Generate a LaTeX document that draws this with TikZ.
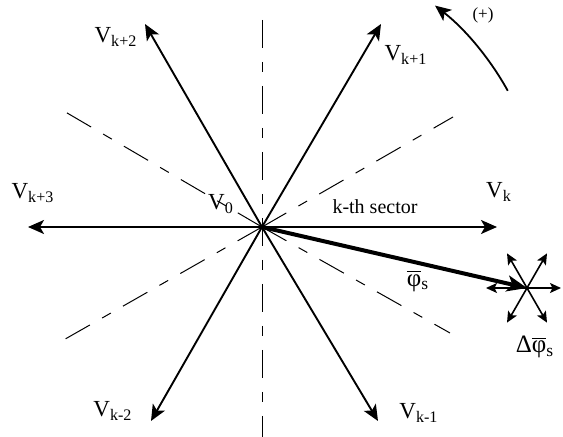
\documentclass[tikz,border=0pt]{standalone}
\usepackage{fontspec}
\setmainfont{Liberation Serif}
\usetikzlibrary{arrows.meta,calc}
\begin{document}
\begin{tikzpicture}[x=0.5pt,y=-0.5pt,
  vec/.style={line width=0.95pt,-{Stealth[length=8pt,width=7pt,inset=2pt]}},
  flux/.style={line width=2pt,-{Stealth[length=10pt,width=8pt,inset=2.5pt]}},
  small/.style={line width=0.8pt,-{Stealth[length=5.5pt,width=5pt,inset=1.2pt]}},
  sector/.style={line width=0.5pt,dash pattern=on 14pt off 7pt on 5pt off 7pt},
  lab/.style={inner sep=0pt,font=\fontsize{11.5}{13}\selectfont},
  txt/.style={inner sep=0pt,font=\fontsize{10}{12}\selectfont},
  greek/.style={inner sep=0pt,font=\fontsize{12.5}{14}\selectfont}]
\useasboundingbox (0,0) rectangle (563,437);
% points
\coordinate (O) at (262,227);
\coordinate (Vk) at (497,227);
\coordinate (Vk3) at (28,227);
\coordinate (Vk1) at (381,24);
\coordinate (Vk2) at (145,24);
\coordinate (Vkm2) at (151,421);
\coordinate (Vkm1) at (378,421);
\coordinate (Dtop) at (262,20);
\coordinate (Dbot) at (262,437);
\coordinate (Dul) at (62,110);
\coordinate (Dur) at (453,117);
\coordinate (Dll) at (60,342);
\coordinate (Dlr) at (450,333);
\coordinate (S) at (527,288);
% sector boundaries
\draw[sector] (Dtop) -- (Dbot);
\draw[sector] (O) -- (Dul);
\draw[sector] (O) -- (Dur);
\draw[sector] (O) -- (Dll);
\draw[sector] (O) -- (Dlr);
% voltage vectors
\draw[vec] (O) -- (Vk);
\draw[vec] (O) -- (Vk1);
\draw[vec] (O) -- (Vk2);
\draw[vec] (O) -- (Vk3);
\draw[vec] (O) -- (Vkm2);
\draw[vec] (O) -- (Vkm1);
% small star
\foreach \a/\r in {0/34,60/40,120/40,180/41,240/40,300/40}
  \draw[small] (S) -- ++(\a:\r);
% flux vector
\draw[flux] (O) -- (S);
% rotation direction
\coordinate (R1) at ($(O)+(-29:281)$);
\draw[line width=0.9pt,-{Stealth[length=8pt,width=7pt,inset=2pt]}] (R1) arc[start angle=-29,end angle=-52,radius=281];
% labels
\node[lab] (lVk2) at (116,37) {V\textsubscript{k+2}};
\node[lab] (lVk1) at (406,55) {V\textsubscript{k+1}};
\node[lab] (lVk3) at (33,193) {V\textsubscript{k+3}};
\node[lab] (lVk) at (499,192) {V\textsubscript{k}};
\node[lab] (lV0) at (221,204) {V\textsubscript{0}};
\node[lab] (lVkm2) at (113,411) {V\textsubscript{k-2}};
\node[lab] (lVkm1) at (419,413) {V\textsubscript{k-1}};
\node[txt] (sec) at (375,207) {k-th sector};
\node[txt,font=\fontsize{8.5}{10}\selectfont] (plus) at (483,15) {(+)};
\node[greek] (phi) at (418,281) {$\overline{\mbox{φ}}$\textsubscript{s}};
\node[greek] (dphi) at (535,347) {Δ$\overline{\mbox{φ}}$\textsubscript{s}};
\end{tikzpicture}
\end{document}
